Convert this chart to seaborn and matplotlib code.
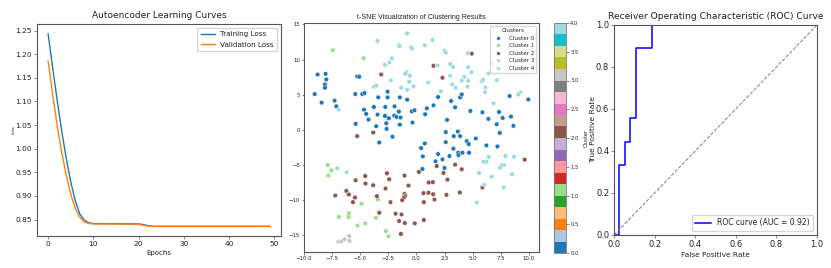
import numpy as np
import pandas as pd
import matplotlib
matplotlib.use("Agg")
import matplotlib.pyplot as plt
import seaborn as sns
from matplotlib.colors import Normalize
from matplotlib.cm import ScalarMappable

plt.rcParams['font.family'] = ['Liberation Sans Narrow', 'DejaVu Sans']
plt.rcParams['axes.edgecolor'] = '#555555'
plt.rcParams['axes.linewidth'] = 0.8

# ---------------- data: learning curves ----------------
epochs = list(range(50))
train_loss = [1.2437, 1.172, 1.103, 1.038, 0.980, 0.930, 0.890, 0.862, 0.848, 0.843,
              0.8415, 0.8413, 0.8412, 0.8411, 0.8410, 0.8410, 0.8409, 0.8409, 0.8408, 0.8408,
              0.8406, 0.8395, 0.8370, 0.8358, 0.8356] + [0.8355] * 25
val_loss = [1.186, 1.115, 1.050, 0.993, 0.944, 0.904, 0.874, 0.855, 0.845, 0.8415,
            0.8408, 0.8406, 0.8405, 0.8405, 0.8404, 0.8404, 0.8404, 0.8403, 0.8403, 0.8402,
            0.8398, 0.8380, 0.8362, 0.8356, 0.8355] + [0.8355] * 25

# ---------------- data: t-SNE clusters ----------------
c0_x = [-9.05, -8.79, -8.43, -8.08, -8.02, -8.14, -8.14, -7.28, -7.13, -5.44, -5.41, -5.27, -5.09,
        -4.82, -4.62, -4.67, -4.47, -4.26, -3.79, -3.58, -3.46, -3.40, -3.31, -2.78, -2.81, -2.69,
        -2.66, -2.57, -2.57, -2.46, -2.13, -1.95, -1.98, -1.78, -1.57, -1.48, -1.42, -1.48, -0.83,
        -0.36, -0.41, -0.18, 0.77, 0.92, 0.41, 0.74, 0.56, 0.53, 1.51, 1.69, 1.92, 1.92, 2.31, 2.49,
        2.60, 2.60, 2.72, 2.93, 3.08, 3.31, 3.28, 3.43, 3.67, 3.70, 3.73, 3.88, 3.88, 4.02, 4.08,
        4.47, 4.64, 4.67, 4.79, 5.27, 5.86, 6.21, 6.39, 7.13, 7.19, 7.34, 7.40, 7.66, 8.28, 8.40,
        8.61, 9.94]
c0_y = [5.08, 7.87, 3.85, 7.96, 7.16, 6.45, 5.98, 4.14, 3.33, 5.08, 0.83, 7.58, 7.54,
        5.08, 5.22, 2.86, 2.25, 1.44, 3.24, 0.50, 2.15, 4.61, -1.82, 3.24, 1.96, 0.92,
        0.12, 5.41, 4.61, 1.63, -1.01, 3.33, 2.01, 1.82, 2.58, 4.61, 1.73, 0.73, 4.28,
        1.02, 2.62, 2.77, 2.20, 3.05, -2.62, -1.96, -3.80, -5.60, 3.47, -4.51, -3.47, 4.66, -4.22, -5.45,
        -0.35, -1.77, 1.40, -3.75, 4.09, -0.92, -2.71, 3.19, -0.26, -3.28, -3.61, -0.92, 4.61, 5.03, -3.28,
        -1.63, -2.05, -3.28, 2.67, -1.25, 2.48, -2.24, 1.54, 0.78, -2.38, 2.53, -0.45, 1.68, 4.80, 1.87,
        0.55, 4.32]

c1_x = [-7.43, -4.70, -7.90, -7.57, -7.84, -4.88, -3.43, -6.89, -6.01, -6.04, -3.61, -4.56, -5.24, -2.72, -2.49]
c1_y = [11.32, 10.18, -5.03, -5.78, -6.54, -10.56, -9.94, -12.44, -11.92, -12.44, -12.54, -13.34, -13.67, -14.43, -15.18]

c2_x = [-3.14, -5.27, -3.85, 4.91, 1.51, 2.31, -7.22, -6.24, -6.01, -5.47, -5.65, -5.41, -4.56, -4.53,
        -3.85, -3.52, -3.31, -2.63, -2.43, -2.75, -2.31, -1.86, -1.33, -1.54, -1.04, -1.39, -1.07, -0.71,
        -1.07, -1.01, -1.12, -1.27, -0.15, 0.21, 0.65, 0.65, 0.62, 1.09, 1.45, 1.06, 1.48, 1.60, 1.80,
        2.40, 2.75, 2.66, 3.43, 4.02, 3.85, 5.86, 9.62]
c2_y = [7.87, -0.92, -0.40, 10.84, 9.10, 7.40, -9.37, -8.71, -9.23, -9.66, -10.32, -7.20, -6.59, -7.67,
        -7.91, -9.47, -11.83, -6.21, -7.06, -8.38, -10.32, -11.97, -12.07, -13.01, -13.29, -14.85, -6.54, -7.96,
        -9.14, -9.42, -9.66, -10.04, -13.34, -6.02, -10.32, -12.87, -9.04, -7.53, -7.48, -8.99, -9.19, -9.94, -5.17,
        -6.16, -7.11, -9.28, -4.98, -5.64, -8.95, -8.24, -4.27]

c3_x = [-6.95, -6.69, -6.39, -5.98, -5.95]
c3_y = [-15.94, -15.94, -15.61, -15.14, -15.84]

c4_x = [-3.46, -1.57, -1.51, -0.83, -0.47, -0.38, 0.74, -2.19, -2.40, -2.81, -0.89, -1.01, -0.59, -0.65,
        -2.28, -1.36, -0.83, -0.27, -3.79, -3.58, -6.92, 1.42, 2.49, 2.60, 4.56, 1.86, 2.99, 3.25, 4.59,
        4.88, 6.72, 6.39, 2.99, 4.26, 4.02, 4.59, 5.80, 5.92, 7.13, 1.04, 3.17, 3.49, 4.53, 6.13, 6.09,
        2.16, 9.23, 9.05, 6.86, -7.04, -6.21, 6.42, 6.21, 5.95, 7.90, 8.67, 7.78, 7.57, 7.43, 5.56, 6.69,
        8.49, 6.04, 7.75, 5.36]
c4_y = [12.64, 12.07, 11.88, 13.72, 11.74, 11.55, 12.02, 10.18, 9.57, 9.24, 8.20, 7.96, 7.68, 6.83,
        7.02, 5.98, 5.69, 6.17, 6.12, 6.26, 2.86, 12.78, 11.27, 10.98, 10.89, 9.14, 9.38, 8.95, 8.91,
        8.20, 9.47, 8.01, 7.68, 7.54, 6.97, 6.97, 6.92, 7.16, 7.06, 6.73, 6.45, 5.98, 6.12, 6.03, 5.36,
        5.46, 5.32, 5.03, 3.76, -5.50, -6.07, -3.89, -4.56, -4.56, -3.75, -3.85, -5.03, -5.07, -5.41, -6.16, -6.68,
        -6.35, -7.86, -8.24, -10.37]

cluster_names = ["Cluster 0", "Cluster 1", "Cluster 2", "Cluster 3", "Cluster 4"]
cluster_ids = [0, 1, 2, 3, 4]

# ---------------- data: ROC ----------------
fpr = [0.0, 0.027, 0.027, 0.054, 0.054, 0.081, 0.081, 0.108, 0.108, 0.189, 0.189, 1.0]
tpr = [0.0, 0.0, 0.333, 0.333, 0.444, 0.444, 0.556, 0.556, 0.889, 0.889, 1.0, 1.0]
auc_value = 0.92

# ---------------- figure ----------------
W, H = 831, 268
fig = plt.figure(figsize=(W / 100, H / 100), dpi=100)

def box(l, t, r, b):
    return [l / W, (H - b) / H, (r - l) / W, (b - t) / H]

ax1 = fig.add_axes(box(37, 24, 281, 236))
ax2 = fig.add_axes(box(304, 23, 539, 252))
cax = fig.add_axes(box(554, 23, 566, 253))
ax3 = fig.add_axes(box(614, 25, 817, 235))

TXT = '#222222'

# --- panel 1
lc = pd.DataFrame({"Epoch": epochs * 2,
                   "Loss": train_loss + val_loss,
                   "Series": ["Training Loss"] * len(epochs) + ["Validation Loss"] * len(epochs)})
sns.lineplot(data=lc, x="Epoch", y="Loss", hue="Series",
             palette=["#1f77b4", "#ff7f0e"], linewidth=1.0, ax=ax1)
ax1.set_title("Autoencoder Learning Curves", fontsize=6.5, color=TXT, pad=4)
ax1.set_xlabel("Epochs", fontsize=5, color=TXT, labelpad=2)
ax1.set_ylabel("Loss", fontsize=2.9, color=TXT, family=['DejaVu Sans'])
ax1.yaxis.set_label_coords(-0.086, 0.5)
ax1.tick_params(labelsize=5.3, length=2, width=0.5, pad=1.5, colors='#555555', labelcolor=TXT)
ax1.set_yticks([0.85, 0.90, 0.95, 1.00, 1.05, 1.10, 1.15, 1.20, 1.25])
leg = ax1.legend(loc="upper right", fontsize=5.2, handlelength=2.0, borderpad=0.5,
                 labelspacing=0.6, handletextpad=0.7)
leg.set_title(None)
for t in leg.get_texts():
    t.set_color(TXT)

# --- panel 2
xs = c0_x + c1_x + c2_x + c3_x + c4_x
ys = c0_y + c1_y + c2_y + c3_y + c4_y
labs = ([cluster_names[0]] * len(c0_x) + [cluster_names[1]] * len(c1_x) +
        [cluster_names[2]] * len(c2_x) + [cluster_names[3]] * len(c3_x) +
        [cluster_names[4]] * len(c4_x))
df = pd.DataFrame({"x": xs, "y": ys, "Cluster": labs})
cmap = plt.get_cmap("tab20")
norm = Normalize(vmin=0, vmax=4)
pal = {name: cmap(norm(cid)) for name, cid in zip(cluster_names, cluster_ids)}
sns.scatterplot(data=df, x="x", y="y", hue="Cluster", hue_order=cluster_names,
                palette=pal, s=11, edgecolor="white", linewidth=0.3, ax=ax2)
ax2.set_title("t-SNE Visualization of Clustering Results", fontsize=5.0, color=TXT,
              family=['Liberation Sans', 'DejaVu Sans'], pad=3)
ax2.set_xlabel("")
ax2.set_ylabel("")
ax2.set_xticks([-10.0, -7.5, -5.0, -2.5, 0.0, 2.5, 5.0, 7.5, 10.0])
ax2.set_xticklabels(["−10.0", "−7.5", "−5.0", "−2.5", "0.0", "2.5", "5.0", "7.5", "10.0"])
ax2.set_yticks([-15, -10, -5, 0, 5, 10, 15])
ax2.set_yticklabels(["−15", "−10", "−5", "0", "5", "10", "15"])
ax2.tick_params(labelsize=3.9, length=1.8, width=0.5, pad=1.2, colors='#555555', labelcolor=TXT)
leg2 = ax2.legend(title="Clusters", loc="upper right", fontsize=4.1, title_fontsize=4.1,
                  markerscale=0.8, handletextpad=0.8, labelspacing=0.45, borderpad=0.4)
for t in leg2.get_texts():
    t.set_color(TXT)
leg2.get_title().set_color(TXT)

sm = ScalarMappable(norm=norm, cmap=cmap)
cb = fig.colorbar(sm, cax=cax)
cb.set_ticks([0.0, 0.5, 1.0, 1.5, 2.0, 2.5, 3.0, 3.5, 4.0])
cb.ax.tick_params(labelsize=3.8, length=1.8, width=0.5, pad=1.2, colors='#555555', labelcolor=TXT)
cb.set_label("Cluster", fontsize=3.7, color=TXT, family=['DejaVu Sans'])
cb.ax.yaxis.set_label_coords(2.45, 0.5)
cb.outline.set_edgecolor('#777777')
cb.outline.set_linewidth(0.6)

# --- panel 3
roc = pd.DataFrame({"fpr": fpr, "tpr": tpr})
sns.lineplot(data=roc, x="fpr", y="tpr", sort=False, estimator=None, color="blue",
             linewidth=1.1, ax=ax3, label=f"ROC curve (AUC = {auc_value:.2f})")
diag = pd.DataFrame({"a": [0.0, 1.0], "b": [0.0, 1.0]})
sns.lineplot(data=diag, x="a", y="b", color="gray", linestyle="--", linewidth=0.7, ax=ax3)
ax3.set_xlim(0.0, 1.0)
ax3.set_ylim(0.0, 1.0)
ax3.set_title("Receiver Operating Characteristic (ROC) Curve", fontsize=6.6, color=TXT, pad=4)
ax3.set_xlabel("False Positive Rate", fontsize=5.3, color=TXT, labelpad=2)
ax3.set_ylabel("True Positive Rate", fontsize=5.4, color=TXT, family=['DejaVu Sans'])
ax3.yaxis.set_label_coords(-0.089, 0.5)
ax3.set_xticks([0.0, 0.2, 0.4, 0.6, 0.8, 1.0])
ax3.set_yticks([0.0, 0.2, 0.4, 0.6, 0.8, 1.0])
ax3.tick_params(labelsize=6, length=2, width=0.5, pad=1.5, colors='#555555', labelcolor=TXT)
leg3 = ax3.legend(loc="lower right", fontsize=5.5, handlelength=2.0, borderpad=0.5)
for t in leg3.get_texts():
    t.set_color(TXT)

fig.savefig("out.png", dpi=100)
